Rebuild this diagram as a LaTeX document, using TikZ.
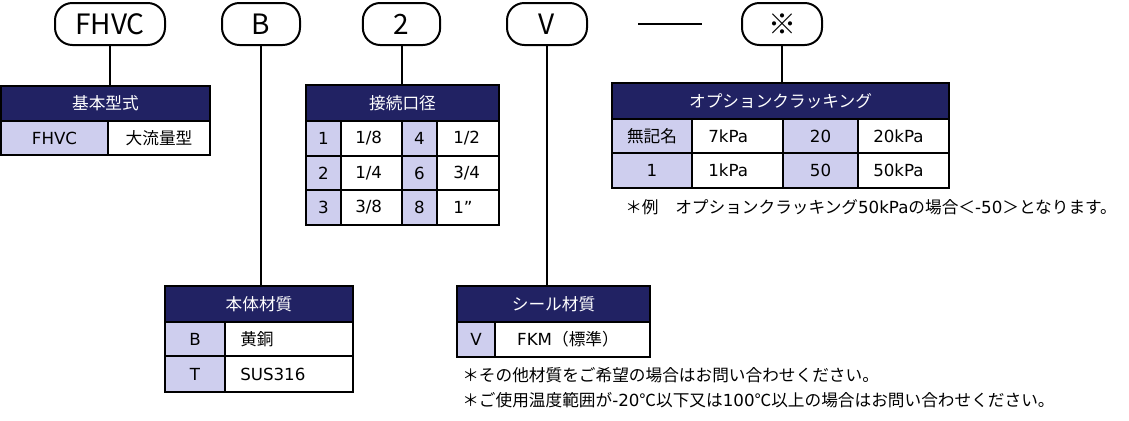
\documentclass[tikz,border=0pt]{standalone}
\usepackage{fontspec}
\setmainfont{Noto Sans CJK JP}
\newfontfamily\lat{DejaVu Sans}
\definecolor{navy}{RGB}{33,34,99}
\definecolor{lav}{RGB}{206,206,238}
\newcommand{\cellfont}{\fontsize{12.5}{14}\selectfont}
\newcommand{\en}[1]{{\lat #1}}
\tikzset{
	capsule/.style={draw, line width=1.5pt, rounded corners=13pt, minimum height=31.5pt, inner sep=0pt, font=\fontsize{21}{24}\selectfont},
	hdr/.style={draw, fill=navy, line width=1.5pt, text=white, inner sep=0pt, minimum height=27pt},
	keycell/.style={draw, fill=lav, line width=1.5pt},
	valcell/.style={draw, fill=white, line width=1.5pt},
	en/.style={font=\cellfont\lat},
	lft/.style={anchor=west, inner xsep=0pt},
	link/.style={line width=1.5pt}
}
\begin{document}
\begin{tikzpicture}[x=0.75pt, y=-0.75pt, every node/.style={font=\cellfont}]
		\useasboundingbox (0,0) rectangle (1129,421);

		% model code
		\node[capsule, minimum width=82.5pt] (fhvc) at (110,24) {FHVC};
		\node[capsule, minimum width=58.5pt] (body) at (261,24) {B};
		\node[capsule, minimum width=58pt] (port) at (401.5,24) {2};
		\node[capsule, minimum width=60pt] (seal) at (547,24) {V};
		\node[capsule, minimum width=60pt] (opt) at (782,24) {※};
		\draw[link] (638,24) -- (702,24);

		% 基本型式
		\node[hdr, minimum width=156.75pt, minimum height=26.25pt] (hdrA) at (105.5,103.5) {基本型式};
		\draw[keycell] (1,121) rectangle (108,155);
		\draw[valcell] (108,121) rectangle (210,155);
		\node[en] (a1) at (54.5,138) {FHVC};
		\node (a2) at (159,138) {大流量型};

		% 接続口径
		\node[hdr, minimum width=144.75pt] (hdrC) at (402.5,103) {接続口径};
		\draw[keycell] (306,121) rectangle (341,156);
		\draw[valcell] (341,121) rectangle (402,156);
		\draw[keycell] (402,121) rectangle (437,156);
		\draw[valcell] (437,121) rectangle (499,156);
		\draw[keycell] (306,156) rectangle (341,190);
		\draw[valcell] (341,156) rectangle (402,190);
		\draw[keycell] (402,156) rectangle (437,190);
		\draw[valcell] (437,156) rectangle (499,190);
		\draw[keycell] (306,190) rectangle (341,225);
		\draw[valcell] (341,190) rectangle (402,225);
		\draw[keycell] (402,190) rectangle (437,225);
		\draw[valcell] (437,190) rectangle (499,225);
		\node[en] (c1) at (323.5,138.5) {1};
		\node[en, lft] (c2) at (355,138.5) {1/8};
		\node[en] (c3) at (419.5,138.5) {4};
		\node[en, lft] (c4) at (453,138.5) {1/2};
		\node[en] (c5) at (323.5,173) {2};
		\node[en, lft] (c6) at (355,173) {1/4};
		\node[en] (c7) at (419.5,173) {6};
		\node[en, lft] (c8) at (453,173) {3/4};
		\node[en] (c9) at (323.5,207.5) {3};
		\node[en, lft] (c10) at (355,207.5) {3/8};
		\node[en] (c11) at (419.5,207.5) {8};
		\node[en, lft] (c12) at (453,207.5) {1”};

		% オプションクラッキング
		\node[hdr, minimum width=252.75pt] (hdrO) at (780.5,101) {オプションクラッキング};
		\draw[keycell] (612,119) rectangle (692,153);
		\draw[valcell] (692,119) rectangle (783,153);
		\draw[keycell] (783,119) rectangle (858,153);
		\draw[valcell] (858,119) rectangle (949,153);
		\draw[keycell] (612,153) rectangle (692,188);
		\draw[valcell] (692,153) rectangle (783,188);
		\draw[keycell] (783,153) rectangle (858,188);
		\draw[valcell] (858,153) rectangle (949,188);
		\node (o1) at (652,136) {無記名};
		\node[en, lft] (o2) at (708,136) {7kPa};
		\node[en] (o3) at (820.5,136) {20};
		\node[en, lft] (o4) at (873,136) {20kPa};
		\node[en] (o5) at (652,170.5) {1};
		\node[en, lft] (o6) at (708,170.5) {1kPa};
		\node[en] (o7) at (820.5,170.5) {50};
		\node[en, lft] (o8) at (873,170.5) {50kPa};
		\node[lft] (onote) at (625,207) {＊例　オプションクラッキング\en{50kPa}の場合＜\en{-50}＞となります。};

		% 本体材質
		\node[hdr, minimum width=141pt] (hdrB) at (259,304) {本体材質};
		\draw[keycell] (165,322) rectangle (225,356);
		\draw[valcell] (225,322) rectangle (353,356);
		\draw[keycell] (165,356) rectangle (225,392);
		\draw[valcell] (225,356) rectangle (353,392);
		\node[en] (b1) at (195,339) {B};
		\node[lft] (b2) at (240,339) {黄銅};
		\node[en] (b3) at (195,374) {T};
		\node[en, lft] (b4) at (240,374) {SUS316};

		% シール材質
		\node[hdr, minimum width=144.75pt] (hdrS) at (553.5,304) {シール材質};
		\draw[keycell] (457,322) rectangle (495,357);
		\draw[valcell] (495,322) rectangle (650,357);
		\node[en] (s1) at (476,339.5) {V};
		\node (s2) at (568,339.5) {\en{FKM}（標準）};
		\node[lft] (snote1) at (462,375) {＊その他材質をご希望の場合はお問い合わせください。};
		\node[lft] (snote2) at (462,400) {＊ご使用温度範囲が\en{-20}℃以下又は\en{100}℃以上の場合はお問い合わせください。};

		% links
		\draw[link] (fhvc.south) -- (fhvc.south |- hdrA.north);
		\draw[link] (body.south) -- (body.south |- hdrB.north);
		\draw[link] (port.south) -- (port.south |- hdrC.north);
		\draw[link] (seal.south) -- (seal.south |- hdrS.north);
		\draw[link] (opt.south) -- (opt.south |- hdrO.north);
	\end{tikzpicture}
\end{document}
